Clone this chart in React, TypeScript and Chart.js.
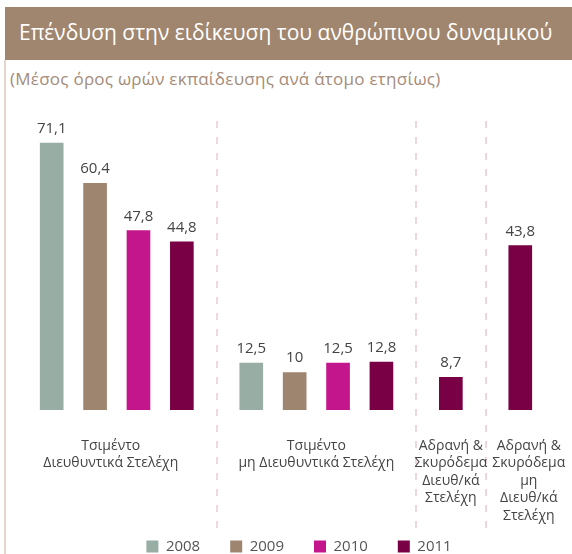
import React, { useEffect, useRef } from 'react';
import { Chart, registerables } from 'chart.js';

Chart.register(...registerables);

// ---- data ----
const TITLE = 'Επένδυση στην ειδίκευση του ανθρώπινου δυναμικού';
const SUBTITLE = '(Μέσος όρος ωρών εκπαίδευσης ανά άτομο ετησίως)';
const categories: string[][] = [
  ['Τσιμέντο', 'Διευθυντικά Στελέχη'],
  ['Τσιμέντο', 'μη Διευθυντικά Στελέχη'],
  ['Αδρανή &', 'Σκυρόδεμα', 'Διευθ/κά', 'Στελέχη'],
  ['Αδρανή &', 'Σκυρόδεμα', 'μη', 'Διευθ/κά', 'Στελέχη'],
];
const years = ['2008', '2009', '2010', '2011'];
const values2008 = [71.1, 12.5, null, null];
const values2009 = [60.4, 10, null, null];
const values2010 = [47.8, 12.5, null, null];
const values2011 = [44.8, 12.8, 8.7, 43.8];
const Y_MAX = 77;

// ---- styles ----
const COLORS = ['#98ada3', '#9e8570', '#c4168c', '#7a0045'];
const HEADER_BG = '#a0866e';
const SUB_COLOR = '#a38c7a';
const FRAME_COLOR = '#e4d6cc';
const DASH_COLOR = '#efd7e0';
const TEXT_COLOR = '#444444';
const FONT = "'Open Sans', 'DejaVu Sans', sans-serif";

// slot grid: bars inside a group are STEP slots apart, groups GAP slots apart
const STEP = 5;
const GAP = 8;
const EDGE_L = 2;
const EDGE_R = 5;
const FRAME_LEFT = 5;

function buildLayout() {
  const series = [values2008, values2009, values2010, values2011];
  const groups: { first: number; last: number }[] = [];
  const placed: { series: number; group: number; slot: number }[] = [];
  let cursor = EDGE_L;
  categories.forEach((_, g) => {
    const first = cursor;
    let last = cursor;
    series.forEach((s, i) => {
      if (s[g] !== null && s[g] !== undefined) {
        placed.push({ series: i, group: g, slot: cursor });
        last = cursor;
        cursor += STEP;
      }
    });
    groups.push({ first, last });
    cursor = last + GAP;
  });
  const n = groups[groups.length - 1].last + EDGE_R + 1;
  const labels = Array.from({ length: n }, () => '');
  const data = series.map(() => Array.from({ length: n }, () => null as number | null));
  placed.forEach((p) => {
    data[p.series][p.slot] = series[p.series][p.group] as number;
  });
  const separators: number[] = [];
  for (let g = 0; g < groups.length - 1; g++) {
    separators.push((groups[g].last + groups[g + 1].first) / 2);
  }
  return { labels, data, separators };
}

const fmt = (v: number) => String(v).replace('.', ',');

export default function App() {
  const ref = useRef<HTMLCanvasElement | null>(null);

  useEffect(() => {
    const { labels, data, separators } = buildLayout();
    const overlay = {
      id: 'overlay',
      beforeDatasetsDraw(chart: any) {
        const { ctx, chartArea } = chart;
        const x = chart.scales.x;
        ctx.save();
        ctx.strokeStyle = DASH_COLOR;
        ctx.lineWidth = 2;
        ctx.setLineDash([7, 9]);
        separators.forEach((v) => {
          const px = Math.round(x.getPixelForValue(v));
          ctx.beginPath();
          ctx.moveTo(px, chartArea.top);
          ctx.lineTo(px, chartArea.bottom + 120);
          ctx.stroke();
        });
        ctx.restore();
      },
      afterDatasetsDraw(chart: any) {
        const { ctx, chartArea } = chart;
        const x = chart.scales.x;
        ctx.save();
        ctx.fillStyle = TEXT_COLOR;
        ctx.textAlign = 'center';
        ctx.textBaseline = 'alphabetic';
        ctx.font = `15px ${FONT}`;
        chart.data.datasets.forEach((ds: any, i: number) => {
          const meta = chart.getDatasetMeta(i);
          meta.data.forEach((el: any, j: number) => {
            const v = ds.data[j];
            if (v === null || v === undefined) return;
            ctx.fillText(fmt(v), el.x, el.y - 10);
          });
        });
        // group labels
        ctx.font = `14px ${FONT}`;
        ctx.textBaseline = 'middle';
        const sepPx = separators.map((v) => x.getPixelForValue(v));
        categories.forEach((lines, g) => {
          const l = g === 0 ? FRAME_LEFT : sepPx[g - 1];
          const r = g === categories.length - 1 ? chart.width : sepPx[g];
          const cx = (l + r) / 2;
          lines.forEach((t, k) => {
            ctx.fillText(t, cx, chartArea.bottom + 36 + k * 17.5);
          });
        });
        ctx.restore();
      },
    };

    const chart = new Chart(ref.current as HTMLCanvasElement, {
      type: 'bar',
      data: {
        labels,
        datasets: years.map((y, i) => ({
          label: y,
          data: data[i],
          backgroundColor: COLORS[i],
          borderWidth: 0,
          grouped: false,
          barThickness: 23,
        })),
      },
      options: {
        responsive: false,
        animation: false,
        layout: { padding: { top: 26, left: 30, right: 4, bottom: 0 } },
        scales: {
          x: {
            type: 'category',
            offset: true,
            grid: { display: false },
            border: { display: false },
            ticks: { display: false },
            afterFit: (s: any) => {
              s.height = 99;
            },
          },
          y: { display: false, min: 0, max: Y_MAX },
        },
        plugins: {
          tooltip: { enabled: false },
          legend: {
            position: 'bottom',
            labels: {
              boxWidth: 12,
              boxHeight: 12,
              padding: 30,
              color: '#555555',
              font: { family: FONT, size: 15 },
            },
          },
        },
      },
      plugins: [overlay],
    } as any);
    return () => chart.destroy();
  }, []);

  return (
    <div
      style={{
        position: 'fixed',
        left: 0,
        top: 0,
        width: 572,
        height: 554,
        overflow: 'hidden',
        background: '#ffffff',
      }}
    >
      <div
        style={{
          position: 'absolute',
          left: 5,
          top: 7,
          width: 567,
          height: 53,
          background: HEADER_BG,
        }}
      />
      <div
        style={{
          position: 'absolute',
          left: 19,
          top: 6,
          height: 53,
          lineHeight: '53px',
          color: '#ffffff',
          fontFamily: FONT,
          fontSize: 21,
          whiteSpace: 'nowrap',
        }}
      >
        {TITLE}
      </div>
      <div
        style={{
          position: 'absolute',
          left: 4,
          top: 60,
          width: 2,
          height: 494,
          background: FRAME_COLOR,
        }}
      />
      <div
        style={{
          position: 'absolute',
          left: 10,
          top: 67,
          height: 24,
          lineHeight: '24px',
          color: SUB_COLOR,
          fontFamily: FONT,
          fontSize: 17,
          letterSpacing: '0.25px',
          whiteSpace: 'nowrap',
        }}
      >
        {SUBTITLE}
      </div>
      <canvas
        ref={ref}
        width={572}
        height={469}
        style={{ position: 'absolute', left: 0, top: 95, display: 'block' }}
      />
    </div>
  );
}
